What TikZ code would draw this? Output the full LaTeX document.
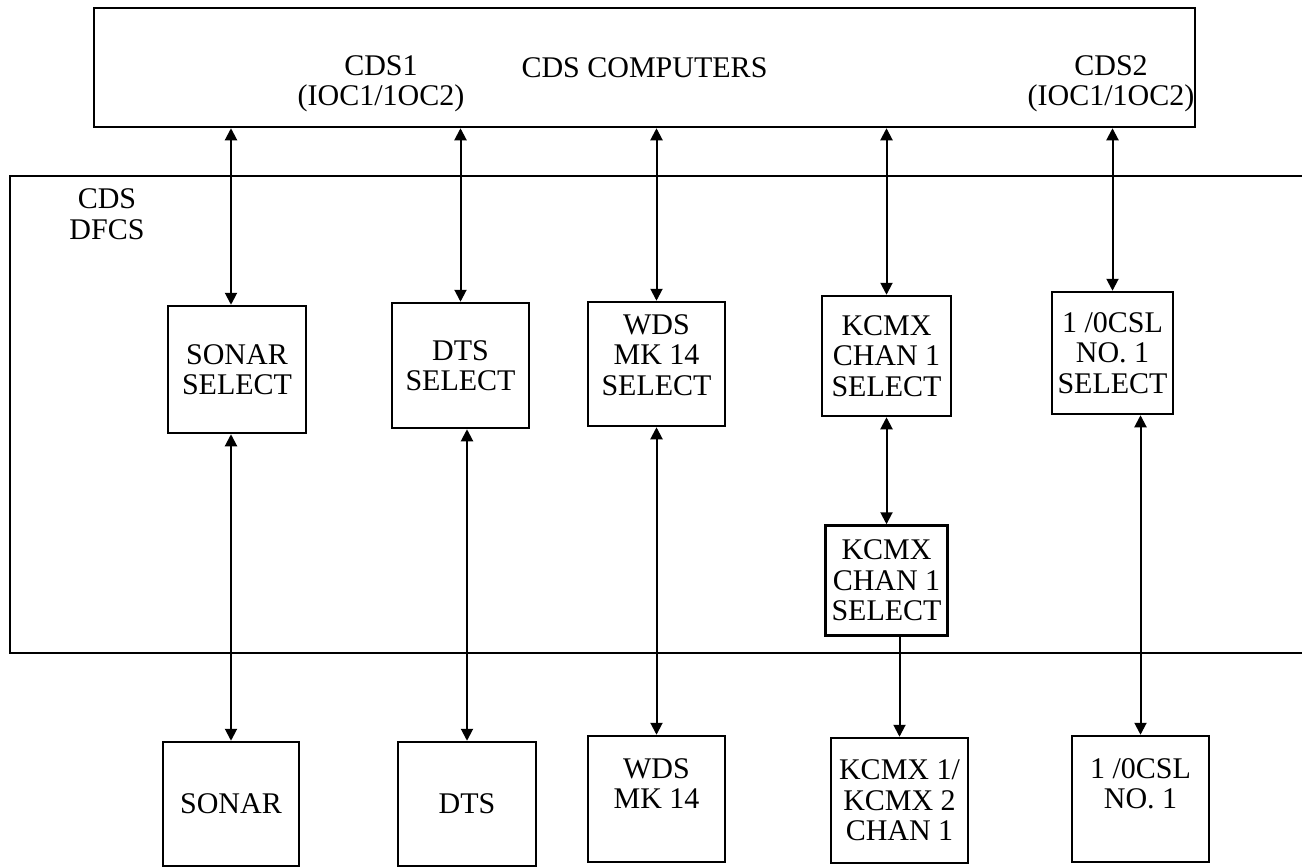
\documentclass[tikz,border=0pt]{standalone}
\usepackage{fontspec}
\setmainfont{Liberation Serif}
\usepackage{tikz}
\usetikzlibrary{arrows.meta,positioning,calc}

\begin{document}
\begin{tikzpicture}[x=1pt,y=-1pt,
  font=\fontsize{30}{30.5}\selectfont,
  blk/.style={draw,line width=2.5pt,align=center,inner sep=0pt},
  link/.style={line width=2pt},
  >={Triangle[width=12pt,length=12pt]}]
  \useasboundingbox (0,0) rectangle (1302,867);
  % computers
  \node[blk,minimum width=1101pt,minimum height=119pt] (cds) at (644.5,67.5) {CDS COMPUTERS};
  \node[align=center] (cdsone) at (381,84) {CDS1\\(IOC1/1OC2)};
  \node[align=center] (cdstwo) at (1111,84) {CDS2\\(IOC1/1OC2)};
  % DFCS frame, open to the right
  \draw[line width=2.5pt] (1310,176) -| (10,653) -- (1310,653);
  \node[align=center] (dfcs) at (107,214) {CDS\\DFCS};
  % select boxes
  \node[blk,minimum width=138pt,minimum height=127pt] (sonarsel) at (237,369.5) {SONAR\\SELECT};
  \node[blk,minimum width=137pt,minimum height=125pt] (dtssel) at (460.5,365.5) {DTS\\SELECT};
  \node[blk,minimum width=137pt,minimum height=124pt] (wdssel) at (656.5,364) {WDS\\MK 14\\SELECT\\[-12pt]};
  \node[blk,minimum width=129pt,minimum height=120pt] (kcmxsel) at (886.5,356) {KCMX\\CHAN 1\\SELECT};
  \node[blk,minimum width=121pt,minimum height=122pt] (cslsel) at (1112.5,353) {1 /0CSL\\NO. 1\\SELECT};
  \node[blk,minimum width=122pt,minimum height=110pt,below=107pt of kcmxsel.south,anchor=north] (kcmxselb) {KCMX\\CHAN 1\\SELECT};
  % equipment
  \node[blk,minimum width=136pt,minimum height=124pt] (sonar) at (231,804) {SONAR};
  \node[blk,minimum width=138pt,minimum height=124pt] (dts) at (467,804) {DTS};
  \node[blk,minimum width=137pt,minimum height=126pt] (wds) at (656.5,799) {WDS\\MK 14\\ };
  \node[blk,minimum width=137pt,minimum height=125pt] (kcmx) at (899.5,800.5) {KCMX 1/\\KCMX 2\\CHAN 1};
  \node[blk,minimum width=137pt,minimum height=126pt] (csl) at (1140.5,799) {1 /0CSL\\NO. 1\\ };
  % links
  \draw[link,<->] (cds.south -| sonar.north) -- (sonarsel.north -| sonar.north);
  \draw[link,<->] (cds.south -| dtssel.north) -- (dtssel.north);
  \draw[link,<->] (cds.south -| wdssel.north) -- (wdssel.north);
  \draw[link,<->] (cds.south -| kcmxsel.north) -- (kcmxsel.north);
  \draw[link,<->] (cds.south -| cslsel.north) -- (cslsel.north);
  \draw[link,<->] (sonarsel.south -| sonar.north) -- (sonar.north);
  \draw[link,<->] (dtssel.south -| dts.north) -- (dts.north);
  \draw[link,<->] (wdssel.south -| wds.north) -- (wds.north);
  \draw[link,<->] (kcmxsel.south) -- (kcmxselb.north -| kcmxsel.south);
  \draw[link,->] (kcmxselb.south -| kcmx.north) -- (kcmx.north);
  \draw[link,<->] (cslsel.south -| csl.north) -- (csl.north);
\end{tikzpicture}
\end{document}
